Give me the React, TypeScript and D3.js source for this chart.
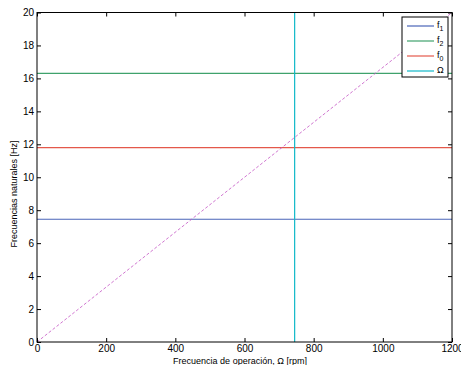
import React, { useEffect, useRef } from "react";
import * as d3 from "d3";

// natural frequencies [Hz] and operating speed [rpm]
const seriesNames = ["f1", "f2", "f0", "Ω"];
const naturalFreqs = [7.45, 16.3, 11.8];
const operatingSpeed = [745];
const speedRange = [0, 1200];
const xTicks = [0, 200, 400, 600, 800, 1000, 1200];
const yTicks = [0, 2, 4, 6, 8, 10, 12, 14, 16, 18, 20];
const colors = ["#4a64b8", "#3fa26c", "#e4584a", "#10b8c8"];

export default function App() {
  const ref = useRef<SVGSVGElement>(null);

  useEffect(() => {
    const svg = d3.select(ref.current);
    svg.selectAll("*").remove();
    const left = 37, right = 452, top = 12.5, bottom = 342;
    const font = "'Liberation Sans', Arial, sans-serif";

    const x = d3.scaleLinear().domain([0, 1200]).range([left, right]);
    const y = d3.scaleLinear().domain([0, 20]).range([bottom, top]);

    // white background box
    svg.append("rect").attr("x", left).attr("y", top)
      .attr("width", right - left).attr("height", bottom - top).attr("fill", "#fff");

    // horizontal lines: f1, f2, f0
    naturalFreqs.forEach((f, i) => {
      svg.append("line")
        .attr("x1", x(0)).attr("x2", x(1200))
        .attr("y1", y(f)).attr("y2", y(f))
        .attr("stroke", colors[i]).attr("stroke-width", 1.2);
    });

    // operating speed line
    svg.append("line")
      .attr("x1", x(operatingSpeed[0])).attr("x2", x(operatingSpeed[0]))
      .attr("y1", y(0)).attr("y2", y(20))
      .attr("stroke", colors[3]).attr("stroke-width", 1.2);

    // Omega in Hz: rpm / 60
    const line = d3.line<number>().x(d => x(d)).y(d => y(d / 60));
    svg.append("path").datum(speedRange)
      .attr("d", line)
      .attr("fill", "none").attr("stroke", "#c454c4")
      .attr("stroke-width", 0.8).attr("stroke-dasharray", "3,2");

    // axes (matlab style box, ticks inside)
    const g = svg.append("g").style("font-family", font).style("font-size", "9px");
    g.append("g").attr("transform", `translate(0,${bottom})`)
      .call(d3.axisBottom(x).tickValues(xTicks).tickSizeInner(-4).tickSizeOuter(0).tickPadding(3).tickFormat(d3.format("d")))
      .call(a => a.select(".domain").remove());
    g.append("g").attr("transform", `translate(0,${top})`)
      .call(d3.axisTop(x).tickValues(xTicks).tickSizeInner(-4).tickSizeOuter(0).tickFormat(() => ""))
      .call(a => a.select(".domain").remove());
    g.append("g").attr("transform", `translate(${left},0)`)
      .call(d3.axisLeft(y).tickValues(yTicks).tickSizeInner(-4).tickSizeOuter(0).tickPadding(3).tickFormat(d3.format("d")))
      .call(a => a.select(".domain").remove());
    g.append("g").attr("transform", `translate(${right},0)`)
      .call(d3.axisRight(y).tickValues(yTicks).tickSizeInner(-4).tickSizeOuter(0).tickFormat(() => ""))
      .call(a => a.select(".domain").remove());
    g.selectAll("text").attr("fill", "#000");

    svg.append("rect").attr("x", left).attr("y", top)
      .attr("width", right - left).attr("height", bottom - top)
      .attr("fill", "none").attr("stroke", "#000").attr("stroke-width", 1);

    // labels
    svg.append("text").attr("x", 240).attr("y", 364)
      .attr("text-anchor", "middle").style("font-family", font).style("font-size", "9px")
      .text("Frecuencia de operación, Ω [rpm]");
    svg.append("text").attr("transform", "translate(17,194)rotate(-90)")
      .attr("text-anchor", "middle").style("font-family", font).style("font-size", "9px")
      .text("Frecuencias naturales [Hz]");

    // legend
    const lg = svg.append("g").attr("transform", "translate(402,17)");
    lg.append("rect").attr("width", 46).attr("height", 60)
      .attr("fill", "#fff").attr("stroke", "#000").attr("stroke-width", 1);
    seriesNames.forEach((name, i) => {
      const yy = 9 + i * 15;
      lg.append("line").attr("x1", 5).attr("x2", 32).attr("y1", yy).attr("y2", yy)
        .attr("stroke", colors[i]).attr("stroke-width", 1.2);
      const t = lg.append("text").attr("x", 35).attr("y", yy + 2)
        .style("font-family", font).style("font-size", "9px");
      if (name.startsWith("f")) {
        t.append("tspan").text("f");
        t.append("tspan").attr("dy", 3).style("font-size", "7px").text(name.slice(1));
      } else {
        t.text(name);
      }
    });
  }, []);

  return (
    <svg ref={ref} width={461} height={365}
      style={{ position: "absolute", left: 0, top: 0, background: "#fff" }} />
  );
}
